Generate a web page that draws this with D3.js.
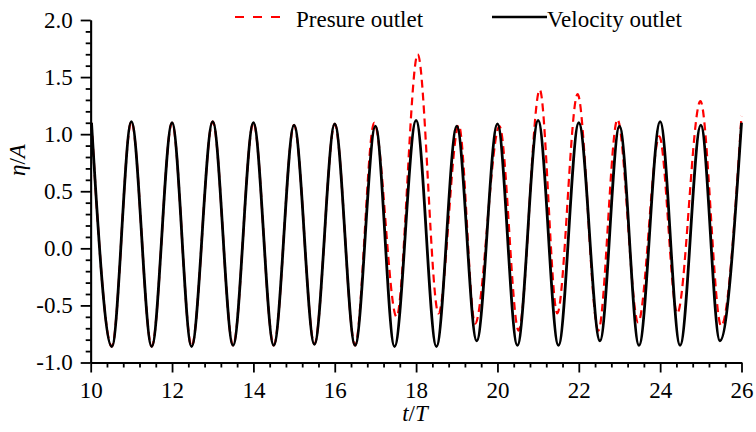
<!DOCTYPE html>
<html>
<head>
<meta charset="utf-8">
<script src="https://cdn.jsdelivr.net/npm/d3@7"></script>
<style>
  body { margin: 0; background: #fff; }
  svg { display: block; font-family: "Liberation Serif", "Times New Roman", serif; }
</style>
</head>
<body>
<svg width="756" height="432"></svg>
<script>
// velocity outlet (black) : crest / trough times and elevations
var velT = [10.02, 10.52, 11, 11.5, 12, 12.48, 13, 13.5, 14, 14.5, 15, 15.5, 16, 16.5, 17, 17.47,
  18, 18.5, 19, 19.49, 20, 20.49, 21, 21.5, 22, 22.52, 23, 23.48, 24, 24.49, 25, 25.47, 26]
var velEta = [1.10, -0.86, 1.11, -0.86, 1.10, -0.86, 1.11, -0.85, 1.10, -0.85, 1.08, -0.84, 1.09, -0.85, 1.07, -0.86,
  1.12, -0.86, 1.07, -0.81, 1.09, -0.85, 1.12, -0.85, 1.10, -0.81, 1.07, -0.85, 1.11, -0.85, 1.08, -0.81, 1.10]

// presure outlet (red dashed)
var presT = [10.02, 10.52, 11, 11.5, 12, 12.48, 13, 13.5, 14, 14.5, 15, 15.5, 16, 16.5, 16.97, 17.52,
  18.04, 18.55, 19.05, 19.45, 20.05, 20.52, 21.04, 21.47, 21.97, 22.48, 22.95, 23.46, 23.98, 24.42, 24.99, 25.5, 26]
var presEta = [1.10, -0.86, 1.11, -0.86, 1.10, -0.86, 1.11, -0.85, 1.10, -0.85, 1.08, -0.84, 1.09, -0.85, 1.10, -0.60,
  1.70, -0.57, 1.08, -0.66, 1.07, -0.72, 1.39, -0.57, 1.35, -0.72, 1.13, -0.65, 0.98, -0.57, 1.29, -0.68, 1.16]

var xMajor = [10, 12, 14, 16, 18, 20, 22, 24, 26]
var yMajor = [-1.0, -0.5, 0.0, 0.5, 1.0, 1.5, 2.0]

function styleAxis (g) {
  g.selectAll('path, line').attr('stroke', '#000').attr('stroke-width', 1.8)
  g.selectAll('text')
    .attr('fill', '#000')
    .attr('font-size', 23)
    .attr('font-family', '"Liberation Serif", "Times New Roman", serif')
}

function drawChart () {
  var svg = d3.select('svg'),
    pLeft = 90.7, pRight = 741.5, pTop = 20, pBottom = 362.5

  var x = d3.scaleLinear().domain([10, 26]).range([pLeft, pRight])
  var y = d3.scaleLinear().domain([-1, 2]).range([pBottom, pTop])

  var xMinor = d3.range(10, 26.001, 0.4).filter(function (v) { return Math.abs(v / 2 - Math.round(v / 2)) > 1e-6 })
  var yMinor = d3.range(-1, 2.001, 0.1).filter(function (v) { return Math.abs(v * 2 - Math.round(v * 2)) > 1e-6 })

  svg.append('clipPath').attr('id', 'clip')
    .append('rect').attr('x', pLeft - 1).attr('y', 0).attr('width', pRight - pLeft + 3).attr('height', pBottom)

  var line = d3.line()
    .x(function (d) { return x(d[0]) })
    .y(function (d) { return y(d[1]) })
    .curve(d3.curveMonotoneX)

  var presData = presT.map(function (t, i) { return [t, presEta[i]] })
  var velData = velT.map(function (t, i) { return [t, velEta[i]] })

  var plot = svg.append('g').attr('clip-path', 'url(#clip)')

  plot.append('path')
    .datum(presData)
    .attr('d', line)
    .attr('fill', 'none')
    .attr('stroke', '#ff0000')
    .attr('stroke-width', 2.2)
    .attr('stroke-dasharray', '8,5')

  plot.append('path')
    .datum(velData)
    .attr('d', line)
    .attr('fill', 'none')
    .attr('stroke', '#000')
    .attr('stroke-width', 2.8)

  // axes (minor ticks first, then major ticks with labels)
  svg.append('g')
    .attr('transform', 'translate(0,' + pBottom + ')')
    .call(d3.axisBottom(x).tickValues(xMinor).tickSize(5).tickSizeOuter(0).tickFormat(''))
    .call(styleAxis)

  svg.append('g')
    .attr('transform', 'translate(0,' + pBottom + ')')
    .call(d3.axisBottom(x).tickValues(xMajor).tickSize(10).tickSizeOuter(0).tickPadding(9)
      .tickFormat(function (d) { return String(d) }))
    .call(styleAxis)

  svg.append('g')
    .attr('transform', 'translate(' + pLeft + ',0)')
    .call(d3.axisLeft(y).tickValues(yMinor).tickSize(5).tickSizeOuter(0).tickFormat(''))
    .call(styleAxis)

  // plain hyphen for negatives, as in the original figure
  svg.append('g')
    .attr('transform', 'translate(' + pLeft + ',0)')
    .call(d3.axisLeft(y).tickValues(yMajor).tickSize(10).tickSizeOuter(0).tickPadding(8)
      .tickFormat(function (d) { return d.toFixed(1) }))
    .call(styleAxis)

  // axis titles
  svg.append('text')
    .attr('x', 415).attr('y', 421)
    .attr('text-anchor', 'middle')
    .attr('font-size', 23)
    .html('<tspan font-style="italic">t</tspan>/<tspan font-style="italic">T</tspan>')

  svg.append('text')
    .attr('transform', 'translate(25,160) rotate(-90)')
    .attr('text-anchor', 'middle')
    .attr('font-size', 23)
    .html('<tspan font-style="italic">η</tspan>/<tspan font-style="italic">A</tspan>')

  // legend
  var legend = svg.append('g').attr('font-size', 23)

  legend.append('line')
    .attr('x1', 235).attr('x2', 281).attr('y1', 17).attr('y2', 17)
    .attr('stroke', '#ff0000').attr('stroke-width', 2.2).attr('stroke-dasharray', '9,9')
  legend.append('text').attr('x', 296).attr('y', 27).text('Presure outlet')

  legend.append('line')
    .attr('x1', 492).attr('x2', 547).attr('y1', 17).attr('y2', 17)
    .attr('stroke', '#000').attr('stroke-width', 2.4)
  legend.append('text').attr('x', 547).attr('y', 27).text('Velocity outlet')
}

drawChart()
</script>
</body>
</html>
